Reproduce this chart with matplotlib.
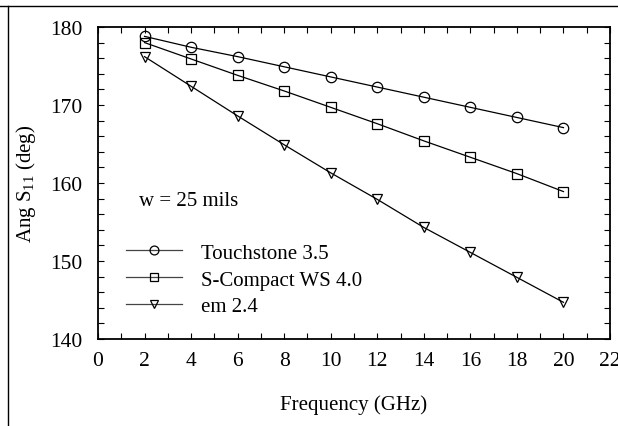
import matplotlib
matplotlib.use("Agg")
import matplotlib.pyplot as plt
from matplotlib.lines import Line2D
from matplotlib.ticker import MultipleLocator

freq = [2, 4, 6, 8, 10, 12, 14, 16, 18, 20]
touchstone = [178.8, 177.4, 176.2, 174.9, 173.6, 172.3, 171.0, 169.7, 168.4, 167.1]
scompact = [178.0, 175.9, 173.8, 171.8, 169.7, 167.6, 165.4, 163.3, 161.2, 158.9]
em = [176.2, 172.4, 168.6, 164.9, 161.3, 157.9, 154.3, 151.1, 147.9, 144.7]
labels = ["Touchstone 3.5", "S-Compact WS 4.0", "em 2.4"]

plt.rcParams['font.family'] = ['Liberation Serif', 'DejaVu Serif']
plt.rcParams['mathtext.fontset'] = 'custom'
plt.rcParams['mathtext.rm'] = 'Liberation Serif'
plt.rcParams['mathtext.it'] = 'Liberation Serif'

W, H = 618, 427
fig = plt.figure(figsize=(W / 100, H / 100), dpi=100)
ax = fig.add_axes([98 / W, 1 - 340 / H, (610 - 98) / W, (340 - 28) / H])

mk = dict(color='black', lw=0.9, markerfacecolor='none', markeredgecolor='black',
          markeredgewidth=0.9)
ax.plot(freq, touchstone, marker='o', markersize=7.5, label=labels[0], **mk)
ax.plot(freq, scompact, marker='s', markersize=7, label=labels[1], **mk)
ax.plot(freq, em, marker='v', markersize=7.5, label=labels[2], **mk)

ax.set_xlim(0, 22)
ax.set_ylim(140, 180)
ax.xaxis.set_major_locator(MultipleLocator(2))
ax.xaxis.set_minor_locator(MultipleLocator(1))
ax.yaxis.set_major_locator(MultipleLocator(10))
ax.yaxis.set_minor_locator(MultipleLocator(2))
ax.tick_params(which='both', direction='in', top=True, right=True,
               labelsize=15.5, width=0.8)
ax.tick_params(which='major', length=4, pad=9)
ax.tick_params(which='minor', length=4)
ax.tick_params(axis='y', which='major', pad=11)
for s in ax.spines.values():
    s.set_linewidth(1.3)

ax.set_xlabel('Frequency (GHz)', fontsize=15, labelpad=17)
ax.set_ylabel(r'Ang S$_{11}$ (deg)', fontsize=15, labelpad=9)

ax.text(1.75, 157.7, 'w = 25 mils', fontsize=15, va='center')

leg = ax.legend(loc='center left', bbox_to_anchor=(0.055, 0.19), frameon=False,
                fontsize=15, handlelength=2.7, handletextpad=0.9,
                labelspacing=0.35, borderaxespad=0, borderpad=0, markerscale=0.85)
for h in leg.get_lines():
    h.set_color('#444444')
    h.set_markeredgecolor('black')

fig.add_artist(Line2D([0, 1], [1 - 7 / H, 1 - 7 / H], color='black', lw=1,
                      transform=fig.transFigure))
fig.add_artist(Line2D([8 / W, 8 / W], [0, 1 - 7 / H], color='black', lw=1,
                      transform=fig.transFigure))

fig.savefig('out.png', dpi=100)
